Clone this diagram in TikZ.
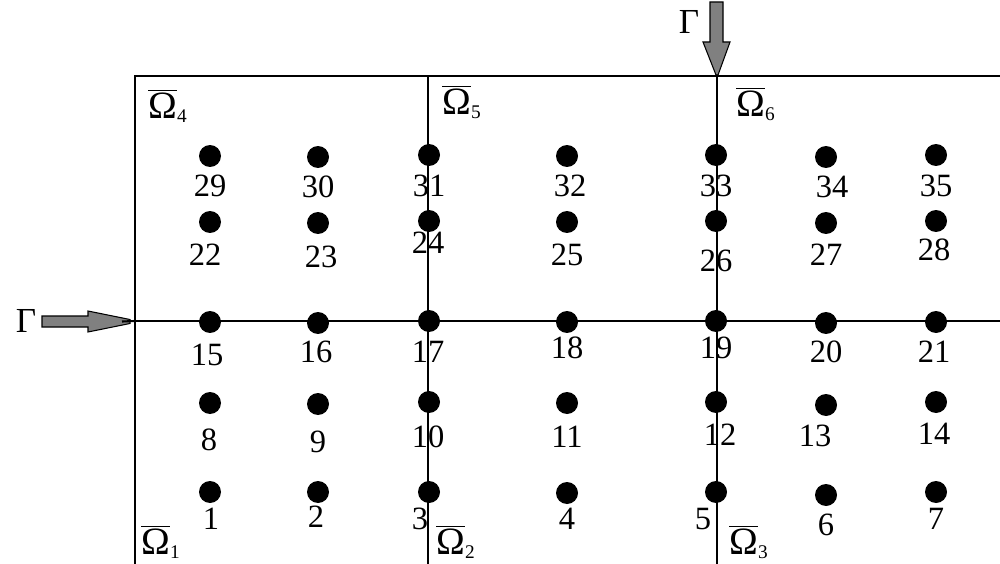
\documentclass[tikz,border=0pt]{standalone}
\usepackage{fontspec}
\setmainfont{Liberation Serif}
\usetikzlibrary{positioning}
\newcommand{\omlab}[1]{$\overline{\mbox{\fontsize{22}{26}\selectfont Ω}}_{\mbox{\fontsize{11}{13}\selectfont #1}}$}

\begin{document}
\begin{tikzpicture}[
	x=0.02cm, y=-0.02cm,
	every node/.style={font=\fontsize{18.5}{22}\selectfont, inner sep=0pt},
	grid/.style={line width=0.8pt},
	dot/.style={circle, fill=black, minimum size=0.44cm, inner sep=0pt},
	garrow/.style={draw=black, fill=gray, line width=0.6pt, line join=miter}
]
\useasboundingbox (0,0) rectangle (1000,564);

% Frame of the subdomains
\coordinate (tl) at (135,76);
\coordinate (tr) at (1000,76);
\coordinate (bl) at (135,564);
\coordinate (ml) at (135,321);
\coordinate (mr) at (1000,321);
\coordinate (ta) at (428,76);
\coordinate (ba) at (428,564);
\coordinate (tb) at (717,76);
\coordinate (bb) at (717,564);
\draw[grid] (bl) -- (tl) -- (tr);
\draw[grid] (ml) -- (mr);
\draw[grid] (ta) -- (ba);
\draw[grid] (tb) -- (bb);

% Subdomain labels
\node (om4) at (168,106) {\omlab{4}};
\node (om5) at (462,102) {\omlab{5}};
\node (om6) at (756,104) {\omlab{6}};
\node (om1) at (161,542) {\omlab{1}};
\node (om2) at (456,542) {\omlab{2}};
\node (om3) at (749,542) {\omlab{3}};

% Boundary arrows
\node[font=\fontsize{20}{24}\selectfont] (gW) at (26,321) {Γ};
\draw[garrow] (42,316) -- (88,316) -- (88,311) -- (130,319.5) -- (130,323.5)
	-- (88,332) -- (88,327) -- (42,327) -- cycle;
\draw[line width=1.2pt] (122,321.5) -- (ml);
\node[font=\fontsize{20}{24}\selectfont] (gN) at (689,22) {Γ};
\draw[garrow] (710,2) -- (723,2) -- (723,42) -- (730,42) -- (718,75)
	-- (716,75) -- (703,42) -- (710,42) -- cycle;

% Nodes of the grid
\foreach \n/\x/\y in {1/210/492, 2/318/492, 3/429/492, 4/567/493, 5/716/492, 6/826/495, 7/936/492,
	8/210/403, 9/318/404, 10/429/402, 11/567/403, 12/716/402, 13/826/405, 14/936/402,
	15/210/322, 16/318/323, 17/429/321, 18/567/322, 19/716/321, 20/826/323, 21/936/322,
	22/210/222, 23/318/223, 24/429/221, 25/567/222, 26/716/221, 27/826/223, 28/936/221,
	29/210/156, 30/318/157, 31/429/155, 32/567/156, 33/716/155, 34/826/157, 35/936/155}
	\node[dot] (p\n) at (\x,\y) {};

% Node numbers
\foreach \n/\x/\y in {1/211/519, 2/316/517, 3/420/519, 4/567/519, 5/703/519, 6/826/525, 7/936/519,
	8/209/440, 9/318/442, 10/428/437, 11/567/437, 12/720/435, 13/815/436, 14/934/434,
	15/207/355, 16/316/352, 17/428/352, 18/567/348, 19/716/348, 20/826/352, 21/934/352,
	22/205/255, 23/321/257, 24/428/243, 25/567/255, 26/716/261, 27/826/255, 28/934/250,
	29/210/186, 30/318/187, 31/429/186, 32/570/186, 33/716/186, 34/832/187, 35/936/186}
	\node (n\n) at (\x,\y) {\n};

\end{tikzpicture}
\end{document}
